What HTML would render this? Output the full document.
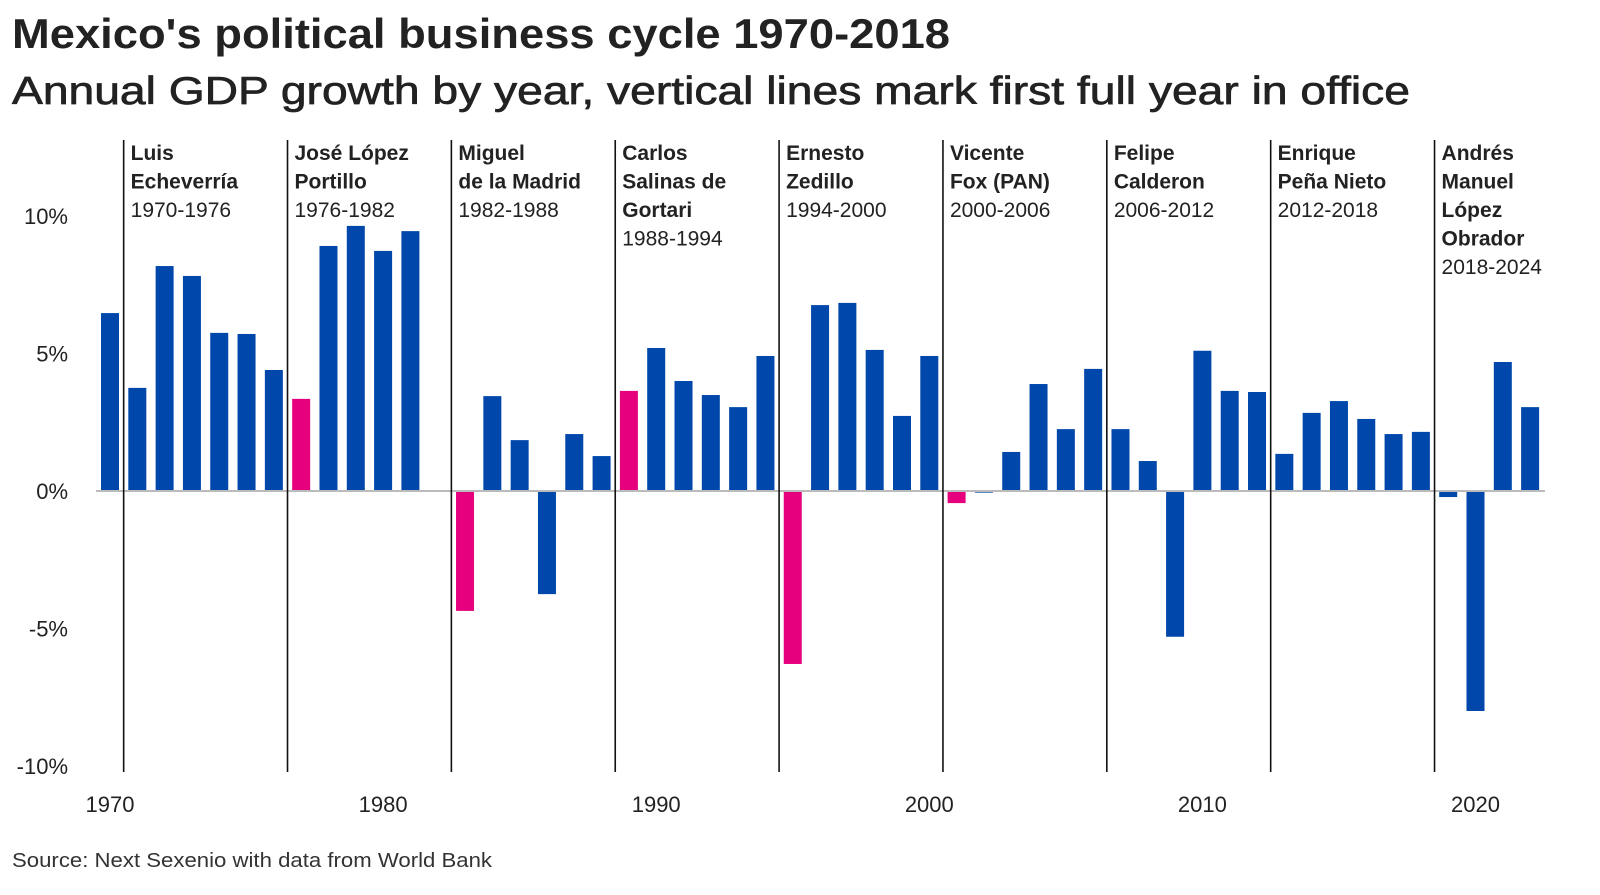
<!DOCTYPE html>
<html><head><meta charset="utf-8"><style>
body{margin:0;background:#fff;width:1600px;height:890px;overflow:hidden;font-family:"Liberation Sans",sans-serif}
svg text{font-family:"Liberation Sans",sans-serif}
</style></head><body>
<svg id="chart" width="1600" height="890">
<text x="12" y="48" font-size="42" font-weight="bold" fill="#222" textLength="938" lengthAdjust="spacingAndGlyphs">Mexico's political business cycle 1970-2018</text>
<text x="12" y="104" font-size="39" fill="#222" stroke="#222" stroke-width="0.7" textLength="1398" lengthAdjust="spacingAndGlyphs">Annual GDP growth by year, vertical lines mark first full year in office</text>
<text x="12" y="867" font-size="20" fill="#333" textLength="480" lengthAdjust="spacingAndGlyphs">Source: Next Sexenio with data from World Bank</text>
<g id="plot"></g>
</svg>
<script>
const years=[1970,1971,1972,1973,1974,1975,1976,1977,1978,1979,1980,1981,1982,1983,1984,1985,1986,1987,1988,1989,1990,1991,1992,1993,1994,1995,1996,1997,1998,1999,2000,2001,2002,2003,2004,2005,2006,2007,2008,2009,2010,2011,2012,2013,2014,2015,2016,2017,2018,2019,2020,2021,2022];
const growth=[6.47,3.75,8.18,7.82,5.75,5.71,4.4,3.35,8.91,9.64,8.73,9.45,0,-4.36,3.45,1.85,-3.75,2.07,1.27,3.64,5.2,4.0,3.49,3.05,4.91,-6.29,6.76,6.84,5.13,2.73,4.91,-0.44,-0.06,1.42,3.89,2.25,4.44,2.25,1.09,-5.3,5.1,3.64,3.6,1.35,2.84,3.27,2.62,2.07,2.15,-0.22,-8.0,4.69,3.05];
const pinkYears=[1977,1983,1989,1995,2001];
const termStarts=[1970,1976,1982,1988,1994,2000,2006,2012,2018];
const presNames=[["Luis","Echeverría"],["José López","Portillo"],["Miguel","de la Madrid"],["Carlos","Salinas de","Gortari"],["Ernesto","Zedillo"],["Vicente","Fox (PAN)"],["Felipe","Calderon"],["Enrique","Peña Nieto"],["Andrés","Manuel","López","Obrador"]];
const presTerms=["1970-1976","1976-1982","1982-1988","1988-1994","1994-2000","2000-2006","2006-2012","2012-2018","2018-2024"];
const yTicks=[10,5,0,-5,-10];
const xTicks=[1970,1980,1990,2000,2010,2020];
const NS="http://www.w3.org/2000/svg";
const g=document.getElementById('plot');
const X=y=>110+(y-1970)*27.31;
const Y=v=>491-v*27.5;
function mk(t,a){const e=document.createElementNS(NS,t);for(const k in a)e.setAttribute(k,a[k]);g.appendChild(e);return e;}
yTicks.forEach(t=>{const e=mk('text',{x:68,y:Y(t)+8,'text-anchor':'end','font-size':22,fill:'#222'});e.textContent=t+'%';

});
xTicks.forEach(t=>{const e=mk('text',{x:X(t),y:812,'text-anchor':'middle','font-size':22,fill:'#222'});e.textContent=t;

});
years.forEach((yr,i)=>{const v=growth[i];if(v===0)return;const y0=Y(Math.max(v,0)),h=Math.max(Math.abs(v)*27.5,1);
const r=mk('rect',{x:X(yr)-9,y:y0,width:18,height:h,fill:pinkYears.includes(yr)?'#e6007e':'#0047ab'});

});
const z=mk('line',{x1:96,x2:1545,y1:Y(0),y2:Y(0),stroke:'#bbb','stroke-width':2});


termStarts.forEach((s,i)=>{const x=X(s+0.5);
const l=mk('line',{x1:x,x2:x,y1:140,y2:772,stroke:'#111','stroke-width':1.6});


let y=160;presNames[i].forEach(n=>{const t=mk('text',{x:x+7,y:y,'font-size':21,'font-weight':'bold',fill:'#222'});t.textContent=n;y+=28.5;

});
const t=mk('text',{x:x+7,y:y,'font-size':21,fill:'#222'});t.textContent=presTerms[i];

});
</script>
</body></html>
